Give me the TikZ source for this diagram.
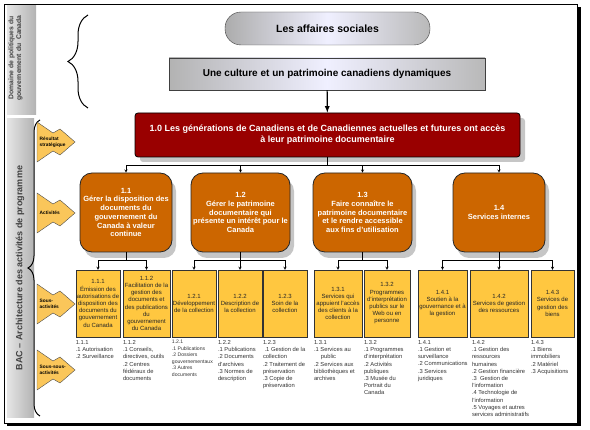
\documentclass[tikz,border=0pt]{standalone}
\usepackage{fontspec}
\setmainfont{Liberation Sans}
\usetikzlibrary{positioning, shadows, decorations.pathreplacing}

\definecolor{bacred}{HTML}{990000}
\definecolor{bacorange}{HTML}{CC6600}
\definecolor{bacyellow}{HTML}{FFC740}
\definecolor{tagyellow}{HTML}{FAC65A}

\tikzset{
  socialbox/.style={draw=gray!50!black, rounded corners=16pt, left color=gray!65, right color=gray!55, middle color=blue!6!white, minimum width=205pt, minimum height=33pt, font=\fontsize{10.5}{12}\selectfont\bfseries},
  culturebox/.style={draw=gray!50!black, left color=gray!60, right color=gray!55, middle color=blue!6!white, minimum width=316pt, minimum height=32pt, font=\fontsize{10}{12}\selectfont\bfseries},
  goalbox/.style={draw=black, thick, fill=bacred, rounded corners=3pt, text=white, align=center, minimum width=385pt, minimum height=44pt, font=\fontsize{9}{11}\selectfont\bfseries, drop shadow={shadow xshift=5pt, shadow yshift=-5pt, fill=gray!45, opacity=1}},
  actbox/.style={draw=black!85, thick, fill=bacorange, rounded corners=12pt, text=white, align=center, minimum height=79pt, inner sep=1pt, font=\fontsize{7.5}{8.7}\selectfont\bfseries, drop shadow={shadow xshift=4pt, shadow yshift=-6pt, fill=gray!45, opacity=1}},
  subbox/.style={draw=black!80, fill=bacyellow, align=center, minimum height=67pt, inner sep=1pt, text=black!85, font=\fontsize{6}{7.2}\selectfont},
  subsub/.style={align=left, inner sep=0pt, text=black!80, font=\fontsize{5.8}{7.2}\selectfont},
  tagarrow/.style={draw=black!70, fill=tagyellow},
  tagtext/.style={anchor=west, align=left, inner sep=0pt, font=\fontsize{4.8}{5.6}\selectfont\bfseries},
  striptext/.style={align=center, text=black!75, inner sep=0pt}
}

\begin{document}
\begin{tikzpicture}[x=1pt, y=-1pt]
\useasboundingbox (0,0) rectangle (590,430);

% frame
\draw[line width=.8pt] (4,4) rectangle (577,423);
\fill (577,7) rectangle (580.5,426.5);
\fill (7,423) rectangle (580.5,426.5);

% left strips
\shade[left color=gray!20, right color=gray!60] (7,6) rectangle (36,115);
\shade[left color=gray!20, right color=gray!60] (7,119) rectangle (34,418);
\node[striptext, font=\fontsize{6.8}{7.8}\selectfont\bfseries, rotate=90] (policy) at (15.5,58) {Domaine de politiques du\\gouvernement du\ \ Canada};
\node[striptext, font=\fontsize{9}{10}\selectfont\bfseries, rotate=90] (bac) at (20,268) {BAC \textendash{} Architecture des activités de programme};

% braces
\draw[decorate, decoration={brace, amplitude=20pt}, line width=1pt] (88,108) -- (88,15);
\draw[decorate, decoration={brace, amplitude=12pt}, line width=1pt] (40,416) -- (40,120);

% level tags
\foreach \y/\txt in {142/{Résultat\\stratégique}, 213/Activités, 304/{Sous-\\activités}, 370/{Sous-sous-\\activités}}{
  \draw[tagarrow, shift={(56,\y)}] (-19,-20) -- (-3,-9) -- (4,-13) -- (19,0) -- (4,13) -- (-3,9) -- (-19,20) -- cycle;
  \node[tagtext] (tag\y) at (39.5,\y) {\txt};
}

% top
\node[socialbox] (social) at (327.5,28.5) {Les affaires sociales};
\node[culturebox] (culture) at (327,74) {Une culture et un patrimoine canadiens dynamiques};
\node[goalbox] (goal) at (327.5,135) {1.0 Les générations de Canadiens et de Canadiennes actuelles et futures ont accès\\à leur patrimoine documentaire};
\draw[-latex, line width=1.2pt] (culture) -- (goal);

% activities
\node[actbox, minimum width=92pt] (a11) at (126,212.5) {1.1\\Gérer la disposition des\\documents du\\gouvernement du\\Canada à valeur\\continue};
\node[actbox, minimum width=99pt] (a12) at (240.5,212.5) {1.2\\Gérer le patrimoine\\documentaire qui\\présente un intérêt pour le\\Canada};
\node[actbox, minimum width=99pt] (a13) at (362.5,212.5) {1.3\\Faire connaître le\\patrimoine documentaire\\et le rendre accessible\\aux fins d'utilisation};
\node[actbox, minimum width=92pt] (a14) at (499,212.5) {1.4\\Services internes};

\draw (goal.south) -- ++(0,8) coordinate (bus0);
\foreach \a in {a11,a12,a13,a14}
  \draw[-stealth] (bus0) -| (\a.north);

% sub-activities
\node[subbox, minimum width=44pt] (s111) at (98,303.5) {1.1.1\\Émission des\\autorisations de\\disposition des\\documents du\\gouvernement\\du Canada};
\node[subbox, minimum width=47pt] (s112) at (146.5,303.5) {1.1.2\\Facilitation de la\\gestion des\\documents et\\des publications\\du\\gouvernement\\du Canada};
\node[subbox, minimum width=44pt] (s121) at (194,303.5) {1.2.1\\Développement\\de la collection};
\node[subbox, minimum width=44pt] (s122) at (240,303.5) {1.2.2\\Description de\\la collection};
\node[subbox, minimum width=44pt] (s123) at (285,303.5) {1.2.3\\Soin de la\\collection};
\node[subbox, minimum width=48pt] (s131) at (338,303.5) {1.3.1\\Services qui\\appuient l'accès\\des clients à la\\collection};
\node[subbox, minimum width=46pt] (s132) at (387,303.5) {1.3.2\\Programmes\\d'interprétation\\publics sur le\\Web ou en\\personne};
\node[subbox, minimum width=49pt] (s141) at (442.5,303.5) {1.4.1\\Soutien à la\\gouvernance et à\\la gestion};
\node[subbox, minimum width=58pt] (s142) at (499,303.5) {1.4.2\\Services de gestion\\des ressources};
\node[subbox, minimum width=43pt] (s143) at (552.5,303.5) {1.4.3\\Services de\\gestion des\\biens};

\draw (a11.south) -- ++(0,8) coordinate (bus1);
\draw (a12.south) -- ++(0,8) coordinate (bus2);
\draw (a13.south) -- ++(0,8) coordinate (bus3);
\draw (a14.south) -- ++(0,8) coordinate (bus4);
\foreach \b/\s in {bus1/s111, bus1/s112, bus2/s121, bus2/s122, bus2/s123, bus3/s131, bus3/s132, bus4/s141, bus4/s142, bus4/s143}
  \draw[-stealth] (\b) -| (\s.north);

% sub-sub-activities
\node[subsub, below right=3pt and 0pt of s111.south west] (l111) {1.1.1\\.1 Autorisation\\.2 Surveillance};
\node[subsub, below right=3pt and 0pt of s112.south west] (l112) {1.1.2\\.1 Conseils,\\directives, outils\\.2 Centres\\fédéraux de\\documents};
\node[subsub, font=\fontsize{5.1}{6.5}\selectfont, below right=3pt and 0pt of s121.south west] (l121) {1.2.1\\.1 Publications\\.2 Dossiers\\gouvernementaux\\.3 Autres\\documents};
\node[subsub, below right=3pt and 0pt of s122.south west] (l122) {1.2.2\\.1 Publications\\.2 Documents\\d'archives\\.3 Normes de\\description};
\node[subsub, below right=3pt and 0pt of s123.south west] (l123) {1.2.3\\\ .1 Gestion de la\\collection\\.2 Traitement de\\préservation\\.3 Copie de\\préservation};
\node[subsub, below right=3pt and 0pt of s131.south west] (l131) {1.3.1\\.1 Services au\\\hspace*{1.2em}public\\.2 Services aux\\bibliothèques et\\archives};
\node[subsub, below right=3pt and 0pt of s132.south west] (l132) {1.3.2\\.1 Programmes\\d'interprétation\\.2 Activités\\publiques\\.3 Musée du\\Portrait du\\Canada};
\node[subsub, below right=3pt and 0pt of s141.south west] (l141) {1.4.1\\.1 Gestion et\\surveillance\\.2 Communications\\.3 Services\\juridiques};
\node[subsub, below right=3pt and 2pt of s142.south west] (l142) {1.4.2\\.1 Gestion des\\ressources\\humaines\\.2 Gestion financière\\.3\ \ Gestion de\\l'information\\.4 Technologie de\\l'information\\.5 Voyages et autres\\services administratifs};
\node[subsub, below right=3pt and 0pt of s143.south west] (l143) {1.4.3\\.1 Biens\\immobiliers\\.2 Matériel\\.3 Acquisitions};
\end{tikzpicture}
\end{document}
